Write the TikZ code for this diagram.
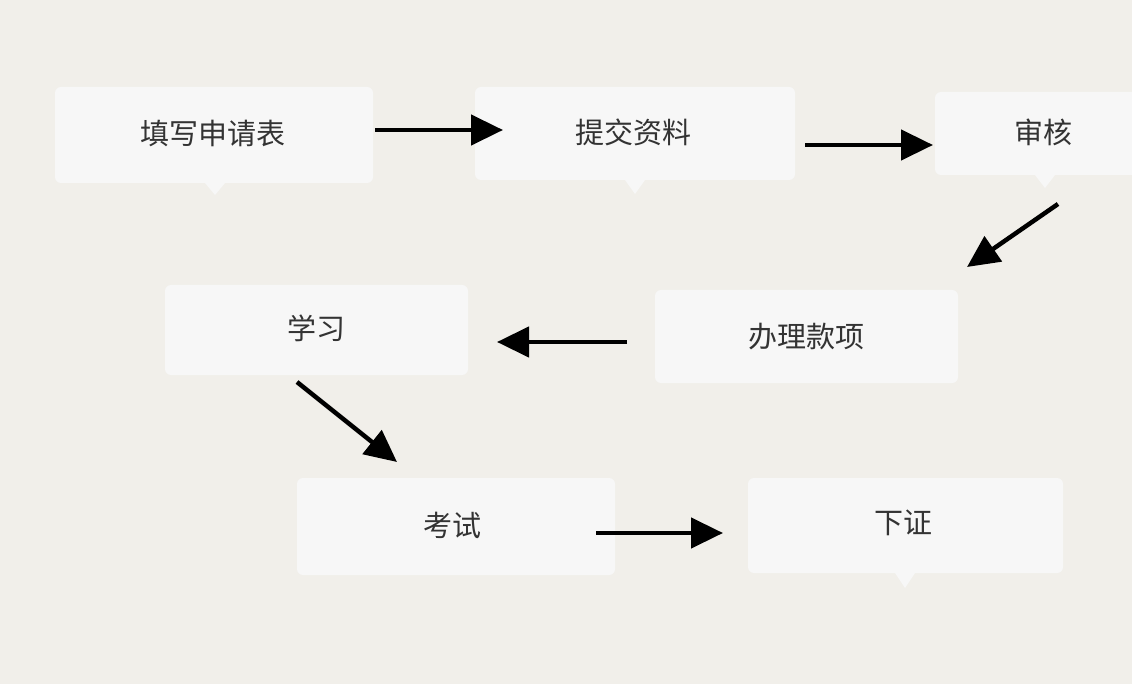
\documentclass[tikz,border=0pt]{standalone}
\usepackage{fontspec}
\newfontfamily\cjk{Noto Sans CJK SC}
\usetikzlibrary{arrows.meta}
\definecolor{bgc}{HTML}{F1EFEA}
\definecolor{boxc}{HTML}{F7F7F7}
\definecolor{txt}{HTML}{333333}
\tikzset{
  card/.style={fill=boxc, rounded corners=6pt, draw=none},
  lab/.style={font=\cjk\fontsize{29}{34}\selectfont, text=txt},
  flow/.style={line width=4.5pt, -{Triangle[length=32pt,width=30pt]}}
}
\begin{document}
\begin{tikzpicture}[x=1pt,y=-1pt]
\fill[bgc] (0,0) rectangle (1132,684);
\useasboundingbox (0,0) rectangle (1132,684);
% boxes
\fill[card] (55,87) rectangle (373,183);
\fill[boxc] (205,183) -- (225,183) -- (215,195) -- cycle;
\fill[card] (475,87) rectangle (795,180);
\fill[boxc] (625,180) -- (645,180) -- (635,194) -- cycle;
\fill[card] (935,92) rectangle (1140,175);
\fill[boxc] (1035,175) -- (1055,175) -- (1045,188) -- cycle;
\fill[card] (655,290) rectangle (958,383);
\fill[card] (165,285) rectangle (468,375);
\fill[card] (297,478) rectangle (615,575);
\fill[card] (748,478) rectangle (1063,573);
\fill[boxc] (895,573) -- (915,573) -- (905,588) -- cycle;
% labels
\node[lab] (n1) at (213,133) {填写申请表};
\node[lab] (n2) at (633,132) {提交资料};
\node[lab] (n3) at (1043,132) {审核};
\node[lab] (n4) at (806,337) {办理款项};
\node[lab] (n5) at (316,328) {学习};
\node[lab] (n6) at (452,525) {考试};
\node[lab] (n7) at (903,523) {下证};
% arrow endpoints
\coordinate (a1) at (375,130); \coordinate (b1) at (503,130);
\coordinate (a2) at (805,145); \coordinate (b2) at (933,145);
\coordinate (a3) at (1058,204); \coordinate (b3) at (967,267);
\coordinate (a4) at (627,342); \coordinate (b4) at (497,342);
\coordinate (a5) at (297,382); \coordinate (b5) at (397,462);
\coordinate (a6) at (596,533); \coordinate (b6) at (723,533);
\foreach \i in {1,...,6} \draw[flow] (a\i) -- (b\i);
\end{tikzpicture}
\end{document}
